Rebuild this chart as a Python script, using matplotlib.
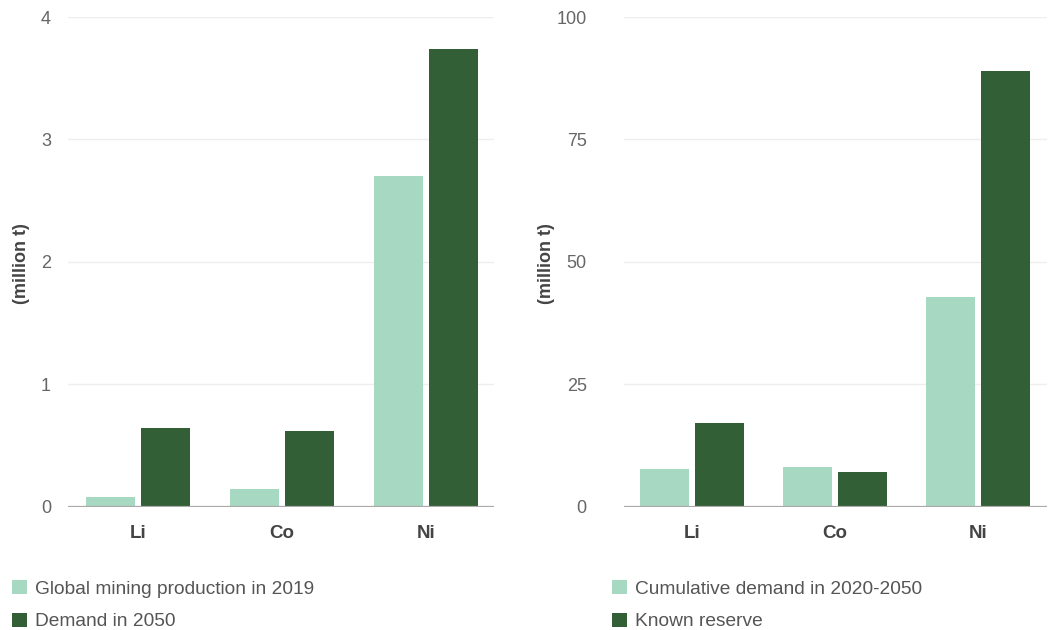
import numpy as np
import matplotlib
matplotlib.use('Agg')
import matplotlib.pyplot as plt

plt.rcParams['font.family'] = ['Liberation Sans', 'DejaVu Sans']

metals = ['Li', 'Co', 'Ni']
# left panel (million t)
mining_2019 = [0.08, 0.145, 2.70]
demand_2050 = [0.643, 0.618, 3.74]
# right panel (million t)
cum_demand = [7.7, 8.1, 42.8]
known_reserve = [17.1, 7.1, 89.0]

light = '#a7d8c1'
dark = '#335f36'
W, H = 1064, 630

fig = plt.figure(figsize=(W / 100, H / 100), dpi=100)


def px(x0, x1, ytop, ybot):
    return [x0 / W, 1 - ybot / H, (x1 - x0) / W, (ybot - ytop) / H]


ax1 = fig.add_axes(px(68, 494, 17, 506.7))
ax2 = fig.add_axes(px(624.3, 1047, 17, 506.7))

x = np.arange(len(metals))
bw = 0.342
off = 0.192


def style(ax, ymax, ticks, pad, xlim):
    ax.set_xlim(*xlim)
    ax.set_ylim(0, ymax)
    ax.set_yticks(ticks)
    ax.set_xticks(x)
    ax.set_xticklabels(metals, fontsize=13.5, fontweight='bold', color='#444444')
    for s in ax.spines.values():
        s.set_visible(False)
    ax.grid(axis='y', color='#eeeeee', linewidth=1)
    ax.set_axisbelow(True)
    ax.axhline(0, color='#aaaaaa', linewidth=1.6, zorder=3)
    ax.tick_params(axis='y', length=0, labelsize=13, labelcolor='#666666', pad=pad)
    ax.tick_params(axis='x', length=0, pad=13)
    ax.set_ylabel('(million t)', fontsize=13, fontweight='bold', color='#444444')


ax1.bar(x - off, mining_2019, bw, color=light, label='Global mining production in 2019')
ax1.bar(x + off, demand_2050, bw, color=dark, label='Demand in 2050')
style(ax1, 4, [0, 1, 2, 3, 4], 12.2, (-0.486, 2.472))

ax2.bar(x - off, cum_demand, bw, color=light, label='Cumulative demand in 2020-2050')
ax2.bar(x + off, known_reserve, bw, color=dark, label='Known reserve')
style(ax2, 100, [0, 25, 50, 75, 100], 27, (-0.473, 2.483))

ax1.yaxis.set_label_coords(30 / W, 1 - 264 / H, transform=fig.transFigure)
ax2.yaxis.set_label_coords(555 / W, 1 - 264 / H, transform=fig.transFigure)

for ax, lx in [(ax1, 12), (ax2, 612)]:
    ax.legend(loc='upper left', bbox_to_anchor=(lx / W, 1 - 580 / H),
              bbox_transform=fig.transFigure, frameon=False, fontsize=13.8,
              handlelength=0.76, handleheight=0.76, handletextpad=0.43,
              labelspacing=0.78, borderpad=0, borderaxespad=0,
              labelcolor='#555555')

fig.savefig('out.png', dpi=100)
